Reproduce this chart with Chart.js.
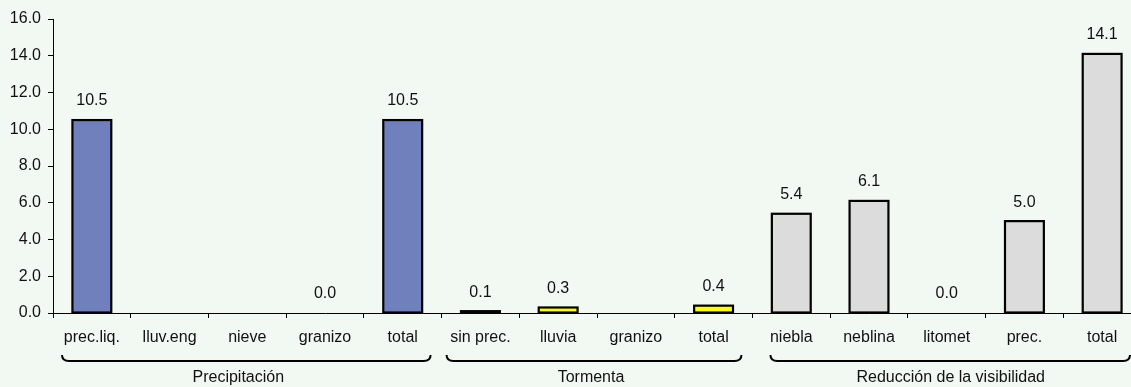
<!DOCTYPE html>
<html>
<head>
<meta charset="utf-8">
<script src="https://cdn.jsdelivr.net/npm/chart.js@4"></script>
<style>
  html, body { margin: 0; padding: 0; background: #f2f8f2; overflow: hidden; }
  #wrap { width: 1145px; height: 387px; }
</style>
</head>
<body>
<div id="wrap"><canvas id="chart" width="1145" height="387"></canvas></div>
<script>
// categories along the x axis
let labels = ["prec.liq.", "lluv.eng", "nieve", "granizo", "total",
              "sin prec.", "lluvia", "granizo", "total",
              "niebla", "neblina", "litomet", "prec.", "total"];
// values (null = no bar, no label)
let values = [10.5, null, null, 0.0, 10.5,
              0.1, 0.3, null, 0.4,
              5.4, 6.1, 0.0, 5.0, 14.1];
let barColors = ["#7080bc", "#7080bc", "#7080bc", "#7080bc", "#7080bc",
                 "#ffff00", "#ffff00", "#ffff00", "#ffff00",
                 "#dcdcdc", "#dcdcdc", "#dcdcdc", "#dcdcdc", "#dcdcdc"];
// groups shown with a brace under the category labels
let groupNames = ["Precipitación", "Tormenta", "Reducción de la visibilidad"];
let groupFirst = [0, 5, 9];
let groupLast = [4, 8, 13];
// hand-placed insets of the braces / labels (they were drawn by hand in the original)
let braceInsetL = [9, 5, 18];
let braceInsetR = [11, 11, 11];
let labelShift = [-9, -6, 4];

let yTicks = { min: 0, max: 16, step: 2 };

const font = "Liberation Sans, Arial, sans-serif";
const fontSize = 16;

// Excel style outline (centered on the edge, so thin bars show as a black line)
const barOutline = {
    id: "barOutline",
    afterDatasetsDraw(chart) {
        let ctx = chart.ctx;
        let meta = chart.getDatasetMeta(0);
        ctx.save();
        ctx.strokeStyle = "#000";
        ctx.lineWidth = 2.2;
        meta.data.forEach((bar, i) => {
            if (values[i] === null || values[i] === 0) return;
            let w = bar.width;
            ctx.strokeRect(bar.x - w / 2, bar.y, w, bar.base - bar.y);
        });
        ctx.restore();
    }
};

// draws the number above each bar
const valueLabels = {
    id: "valueLabels",
    afterDatasetsDraw(chart) {
        let ctx = chart.ctx;
        let meta = chart.getDatasetMeta(0);
        ctx.save();
        ctx.font = fontSize + "px " + font;
        ctx.fillStyle = "#111";
        ctx.textAlign = "center";
        ctx.textBaseline = "middle";
        meta.data.forEach((bar, i) => {
            if (values[i] === null) return;
            ctx.fillText(values[i].toFixed(1), bar.x, bar.y - 19);
        });
        ctx.restore();
    }
};

// draws the braces and group names below the x axis
const groupBraces = {
    id: "groupBraces",
    afterDraw(chart) {
        let ctx = chart.ctx;
        let x = chart.scales.x;
        let half = (x.getPixelForValue(1) - x.getPixelForValue(0)) / 2;
        let top = 355, bottom = 361, r = 7;
        ctx.save();
        ctx.strokeStyle = "#000";
        ctx.lineWidth = 2;
        for (let g = 0; g < groupNames.length; g++) {
            let g0 = x.getPixelForValue(groupFirst[g]) - half;
            let g1 = x.getPixelForValue(groupLast[g]) + half;
            let x0 = g0 + braceInsetL[g];
            let x1 = g1 - braceInsetR[g];
            ctx.beginPath();
            ctx.moveTo(x0, top);
            ctx.quadraticCurveTo(x0, bottom, x0 + r, bottom);
            ctx.lineTo(x1 - r, bottom);
            ctx.quadraticCurveTo(x1, bottom, x1, top);
            ctx.stroke();

            ctx.font = fontSize + "px " + font;
            ctx.fillStyle = "#111";
            ctx.textAlign = "center";
            ctx.textBaseline = "middle";
            ctx.fillText(groupNames[g], (g0 + g1) / 2 + labelShift[g], 378);
        }
        ctx.restore();
    }
};

new Chart(document.getElementById("chart"), {
    type: "bar",
    data: {
        labels: labels,
        datasets: [{
            data: values,
            backgroundColor: barColors,
            borderWidth: 0,
            categoryPercentage: 1.0,
            barPercentage: 0.5
        }]
    },
    options: {
        responsive: false,
        animation: false,
        layout: { padding: { top: 19, right: 4, left: 0, bottom: 0 } },
        plugins: { legend: { display: false }, tooltip: { enabled: false } },
        scales: {
            x: {
                border: { color: "#000", width: 1 },
                grid: { display: true, drawOnChartArea: false, tickLength: 5, color: "#000", offset: true },
                ticks: { color: "#111", font: { family: font, size: fontSize }, padding: 10, maxRotation: 0, autoSkip: false },
                afterFit(scale) { scale.height = 74; }
            },
            y: {
                min: yTicks.min,
                max: yTicks.max,
                border: { color: "#000", width: 1 },
                grid: { display: true, drawOnChartArea: false, tickLength: 5, color: "#000" },
                ticks: {
                    stepSize: yTicks.step,
                    color: "#111",
                    font: { family: font, size: fontSize },
                    padding: 7,
                    callback: v => v.toFixed(1)
                },
                afterFit(scale) { scale.width = 53; }
            }
        }
    },
    plugins: [barOutline, valueLabels, groupBraces]
});
</script>
</body>
</html>
